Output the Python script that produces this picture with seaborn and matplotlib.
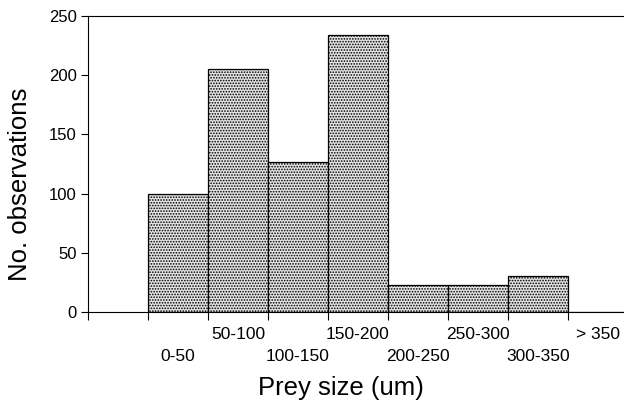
import matplotlib
matplotlib.use("Agg")
import matplotlib.pyplot as plt
import seaborn as sns
import numpy as np

# data
size_classes = ["0-50", "50-100", "100-150", "150-200", "200-250", "250-300", "300-350", "> 350"]
n_obs = [100, 205, 127, 234, 23, 23, 30, 0]

sns.set_theme(style="white")
plt.rcParams["font.family"] = ["Liberation Sans", "DejaVu Sans"]
plt.rcParams["hatch.color"] = "#333333"
plt.rcParams["hatch.linewidth"] = 0.8

fig = plt.figure(figsize=(6.24, 4.01), dpi=100)
ax = fig.add_axes([0.141, 0.222, 0.865, 0.738])

sns.barplot(x=size_classes, y=n_obs, order=size_classes, ax=ax, width=1.0,
            color="#e3e3e3", saturation=1, edgecolor="black", linewidth=0.9,
            hatch="......")

ax.set_xlim(-1.5, 7.5)
ax.set_ylim(0, 250)
ax.set_yticks(np.arange(0, 251, 50))

# boundaries as minor ticks, labels centred under bars
ax.set_xticks(np.arange(-1.5, 7.0, 1.0), minor=True)
ax.tick_params(axis="x", which="minor", length=6, width=0.8, color="black", bottom=True)
ax.tick_params(axis="x", which="major", length=0, labelsize=12.5, labelcolor="black")
ax.tick_params(axis="y", length=5, width=0.8, color="black", left=True,
               labelsize=12, labelcolor="black", pad=3)

for sp in ["left", "bottom", "top"]:
    ax.spines[sp].set_color("black")
    ax.spines[sp].set_linewidth(0.8)
ax.spines["right"].set_visible(False)

ax.set_xlabel("Prey size (um)", fontsize=18.5, color="black")
ax.set_ylabel("No. observations", fontsize=18.5, color="black")
ax.xaxis.set_label_coords(0.468, -0.215)
ax.yaxis.set_label_coords(-0.103, 0.43)

# staggered tick labels
for i, t in enumerate(ax.xaxis.get_major_ticks()):
    t.set_pad(27 if i % 2 == 0 else 11)

fig.savefig("out.png", dpi=100)
